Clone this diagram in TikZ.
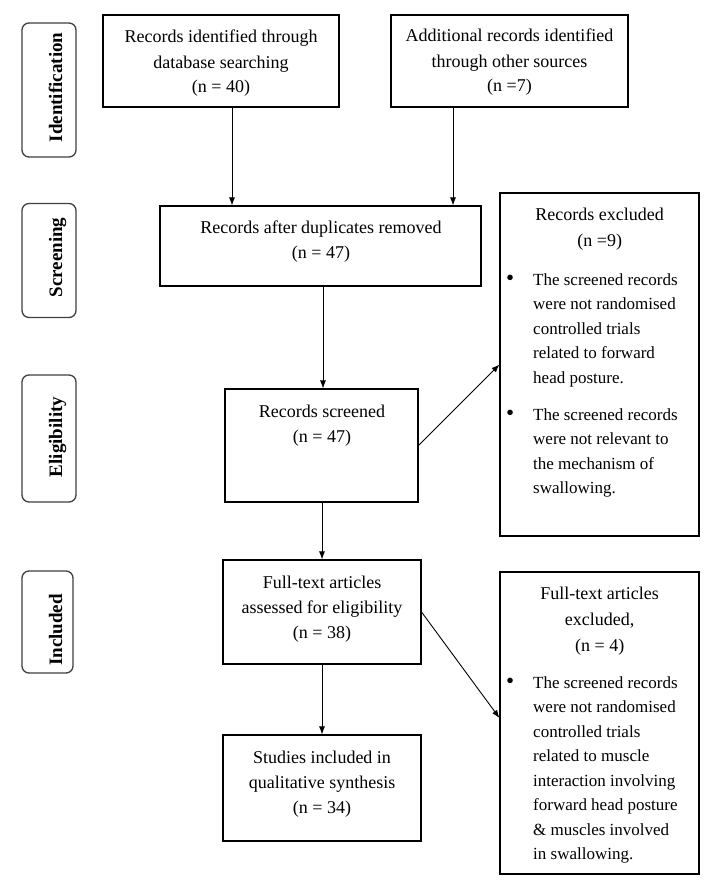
\documentclass[tikz,border=0pt]{standalone}
\usepackage{fontspec}
\setmainfont{Liberation Serif}
\usetikzlibrary{arrows.meta}
\newcommand{\bitem}{\par\noindent\hangindent=26pt\hangafter=1\makebox[26pt][l]{\kern-1pt{\fontsize{23}{23}\selectfont\textbullet}}}
\begin{document}
\begin{tikzpicture}[x=1pt,y=-1pt,
  box/.style={draw=black, line width=1.1pt, inner sep=0pt},
  phase/.style={draw=black!75, line width=1.3pt, rounded corners=7pt, inner sep=0pt},
  phasetxt/.style={rotate=90, anchor=base, inner sep=0pt, font=\bfseries\fontsize{19}{19}\selectfont},
  txt/.style={anchor=base, inner sep=0pt, font=\fontsize{18}{25}\selectfont},
  btxt/.style={anchor=base west, inner sep=0pt},
  arr/.style={-{Latex[length=8pt,width=6pt]}, line width=0.9pt, draw=black}]
\useasboundingbox (0,0) rectangle (714,883);
\fill[white] (0,0) rectangle (714,883);

% phase labels
\node[phase, minimum width=54pt, minimum height=134pt] (p1) at (49,90) {};
\node[phase, minimum width=54pt, minimum height=114pt] (p2) at (49,260.5) {};
\node[phase, minimum width=54pt, minimum height=127pt] (p3) at (49,438.5) {};
\node[phase, minimum width=51pt, minimum height=102pt] (p4) at (47.5,622) {};
\node[phasetxt] (pt1) at (62,87.5) {Identification};
\node[phasetxt] (pt2) at (62,257.5) {Screening};
\node[phasetxt] (pt3) at (62,437) {Eligibility};
\node[phasetxt] (pt4) at (62,630) {Included};

% boxes
\node[box, minimum width=236pt, minimum height=92pt] (a) at (221,61) {};
\node[box, minimum width=237pt, minimum height=92pt] (b) at (509.5,61) {};
\node[box, minimum width=321pt, minimum height=80pt] (c) at (320.5,246) {};
\node[box, minimum width=193pt, minimum height=113pt] (d) at (321.5,445.5) {};
\node[box, minimum width=198pt, minimum height=104pt] (e) at (322,612) {};
\node[box, minimum width=198pt, minimum height=106pt] (g) at (322,788) {};
\node[box, minimum width=199pt, minimum height=343pt] (x) at (599.5,364.5) {};
\node[box, minimum width=199pt, minimum height=302pt] (f) at (599.5,723) {};

% texts
\node[txt] (ta) at (221,43) {\parbox[t]{230pt}{\centering Records identified through\\database searching\\(n = 40)}};
\node[txt] (tb) at (509.5,42) {\parbox[t]{230pt}{\centering Additional records identified\\through other sources\\(n =7)}};
\node[txt] (tc) at (321,233) {\parbox[t]{310pt}{\centering Records after duplicates removed\\(n = 47)}};
\node[txt] (td) at (322,417) {\parbox[t]{185pt}{\centering Records screened\\(n = 47)}};
\node[txt] (te) at (322,588) {\parbox[t]{190pt}{\centering Full-text articles\\assessed for eligibility\\(n = 38)}};
\node[txt] (tg) at (322,763) {\parbox[t]{190pt}{\centering Studies included in\\qualitative synthesis\\(n = 34)}};

\node[btxt] (tx) at (507,220) {\parbox[t]{185pt}{%
  \fontsize{18}{26.5}\selectfont\centering Records excluded\\(n =9)\par
  \fontsize{17}{24.5}\selectfont\raggedright\vspace{14pt}%
  \bitem The screened records\newline were not randomised\newline controlled trials\newline related to forward\newline head posture.\par
  \vspace{12.5pt}%
  \bitem The screened records\newline were not relevant to\newline the mechanism of\newline swallowing.\par}};

\node[btxt] (tf) at (507,599) {\parbox[t]{185pt}{%
  \fontsize{18}{26}\selectfont\centering Full-text articles\\excluded,\\(n = 4)\par
  \fontsize{17}{24.5}\selectfont\raggedright\vspace{12.5pt}%
  \bitem The screened records\newline were not randomised\newline controlled trials\newline related to muscle\newline interaction involving\newline forward head posture\newline \& muscles involved\newline in swallowing.\par}};

% connectors
\coordinate (xa) at (232,0);
\coordinate (xb) at (453,0);
\coordinate (xc) at (323,0);
\coordinate (xd) at (322,0);
\draw[arr] (a.south -| xa) -- (c.north -| xa);
\draw[arr] (b.south -| xb) -- (c.north -| xb);
\draw[arr] (c.south -| xc) -- (d.north -| xc);
\draw[arr] (d.east) -- (x.west);
\draw[arr] (d.south -| xd) -- (e.north -| xd);
\draw[arr] (e.east) -- ([yshift=5pt]f.west);
\draw[arr] (e.south -| xd) -- (g.north -| xd);
\end{tikzpicture}
\end{document}
